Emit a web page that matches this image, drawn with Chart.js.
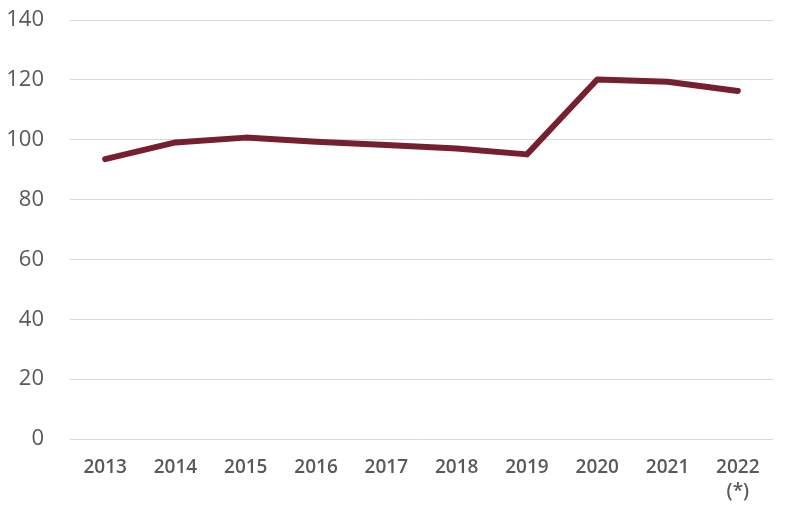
<!DOCTYPE html>
<html>
<head>
<meta charset="utf-8">
<script src="https://cdn.jsdelivr.net/npm/chart.js@4"></script>
<style>
  html, body { margin: 0; padding: 0; background: #fff; }
  #wrap { width: 785px; height: 512px; }
</style>
</head>
<body>
<div id="wrap"><canvas id="chart" width="785" height="512"></canvas></div>
<script>
var years = ["2013", "2014", "2015", "2016", "2017", "2018", "2019", "2020", "2021", ["2022", "(*)"]];
var values = [93.5, 99.1, 100.7, 99.3, 98.2, 97.1, 95.1, 120.1, 119.4, 116.3];
var yTicks = [0, 20, 40, 60, 80, 100, 120, 140];

var ctx = document.getElementById("chart").getContext("2d");
var myChart = new Chart(ctx, {
  type: "line",
  data: {
    labels: years,
    datasets: [
      {
        label: "index",
        data: values,
        borderColor: "#761F2F",
        borderWidth: 6,
        borderCapStyle: "round",
        borderJoinStyle: "round",
        pointRadius: 0,
        fill: false,
        tension: 0,
      },
    ],
  },
  options: {
    responsive: false,
    animation: false,
    layout: { padding: { top: 20, right: 12, left: 0, bottom: 0 } },
    plugins: { legend: { display: false }, tooltip: { enabled: false } },
    scales: {
      x: {
        offset: true,
        grid: { display: false },
        border: { display: false },
        afterFit: function (axis) {
          axis.height = 73;
          axis.paddingLeft = 0;
          axis.paddingRight = 0;
        },
        ticks: {
          color: "#595959",
          font: { family: "'Open Sans', 'Liberation Sans', Arial", size: 19, weight: "600", lineHeight: 1.3 },
          padding: 8,
          maxRotation: 0,
          autoSkip: false,
        },
      },
      y: {
        min: 0,
        max: 140,
        afterBuildTicks: function (axis) {
          axis.ticks = yTicks.map(function (v) { return { value: v }; });
        },
        afterFit: function (axis) {
          axis.width = 70;
          axis.paddingTop = 0;
          axis.paddingBottom = 0;
        },
        grid: { color: "#D9D9D9", lineWidth: 1, drawTicks: false },
        border: { display: false },
        ticks: {
          color: "#595959",
          font: { family: "'Open Sans', 'Liberation Sans', Arial", size: 22 },
          padding: 26,
        },
      },
    },
  },
});
</script>
</body>
</html>
